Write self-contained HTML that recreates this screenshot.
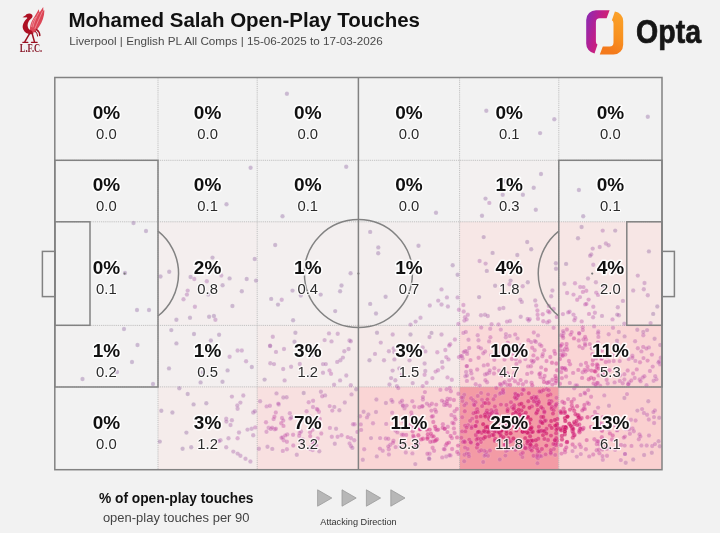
<!DOCTYPE html>
<html lang="en"><head><meta charset="utf-8">
<title>Mohamed Salah Open-Play Touches</title>
<style>
html,body{margin:0;padding:0;background:#f2f2f2;}
body{width:720px;height:533px;overflow:hidden;}
svg{display:block;will-change:transform;}
text{font-family:'Liberation Sans', sans-serif;}
.pc{font-weight:700;font-size:19px;fill:#111;text-anchor:middle;paint-order:stroke;stroke:#fff;stroke-width:3.2px;stroke-linejoin:round;stroke-opacity:.9}
.p9{font-weight:400;font-size:14.8px;fill:#2b2b2b;text-anchor:middle;paint-order:stroke;stroke:#fff;stroke-width:2.4px;stroke-linejoin:round;stroke-opacity:.75}
.ln{fill:none;stroke:#828282;stroke-width:1.5}
.dt{fill:none;stroke:#b2b2b2;stroke-width:1;stroke-dasharray:1.2 .9;stroke-opacity:.75}
.d{stroke:#fff;stroke-opacity:.16;stroke-width:.8}
</style></head><body>
<svg width="720" height="533" viewBox="0 0 720 533">
<defs>
<linearGradient id="ol" x1="0" y1="0.1" x2="1" y2="0.6"><stop offset="0" stop-color="#8a2bb4"/><stop offset=".5" stop-color="#c01e8a"/><stop offset="1" stop-color="#dc2660"/></linearGradient>
<linearGradient id="or" x1="0" y1="1" x2="0.3" y2="0"><stop offset="0" stop-color="#fba42c"/><stop offset=".6" stop-color="#f8911f"/><stop offset="1" stop-color="#f47a1c"/></linearGradient>
</defs>
<rect width="720" height="533" fill="#f2f2f2"/>
<g id="crest">
<path fill="#dc4656" d="M30.2 31.4 C29.4 26 31.4 21 34.6 16.6 L38.8 9.2 L39.5 12.6 L43.2 7.0 L43.4 10.8 L44.4 10.2 C44.4 16.5 42.2 22 39.2 26.4 C37.6 29 35.8 31.2 34 32.8 Z"/>
<g fill="none" stroke="#f3a3aa" stroke-width=".7" stroke-linecap="round"><path d="M33 27 C34 22 36 17.5 38.6 13"/><path d="M35 28.5 C37 23.5 39.5 18 42.4 11.5"/><path d="M31.6 26.5 C32 23 33.4 20 35.4 17.4"/></g>
<path fill="#ad1023" d="M22.5 17.3 L25.7 15.3 C26.4 13.4 30 12.7 31.9 14.4 C33.1 15.6 32.6 17.6 31 18.7 C28.6 20.6 27.6 23 27.6 25.4 C27.6 28 29.4 30 31.8 30.8 L33.6 33.6 C29.4 35.4 25 33.4 23.3 29.6 C21.5 25.4 24 21 27.4 17.9 C26.9 17.1 26 17 25.4 17.4 Z"/>
<path fill="none" stroke="#9c0f20" stroke-width="1.5" stroke-linecap="round" d="M36.6 29.6 C38.6 31 39.8 33 39.8 35.6"/>
<path fill="none" stroke="#9c0f20" stroke-width="1.1" stroke-linecap="round" d="M35.2 31.4 C36.8 32.6 37.6 34 37.6 36"/>
<g fill="none" stroke="#9c0f20" stroke-width="1.5" stroke-linecap="round"><path d="M29.4 33.8 L24.9 41.6"/><path d="M32.2 33.8 L34.4 41.6"/><path d="M22.8 42.3 H27.9" stroke-width="1.2"/><path d="M31.4 42.3 H37.2" stroke-width="1.2"/></g>
<text x="19.8" y="52.4" font-size="12" font-weight="700" fill="#8a1a2b" style="font-family:'Liberation Serif', serif" textLength="22.4" lengthAdjust="spacingAndGlyphs">L.F.C.</text>
</g>
<text x="68.4" y="27.4" font-size="19.6" font-weight="700" fill="#111" textLength="351.6" lengthAdjust="spacingAndGlyphs">Mohamed Salah Open-Play Touches</text>
<text x="69.2" y="45.2" font-size="11.6" fill="#4a4a4a" textLength="313.5" lengthAdjust="spacingAndGlyphs">Liverpool | English PL All Comps | 15-06-2025 to 17-03-2026</text>
<g id="opta">
<path fill="url(#ol)" d="M609.6 10.2 H596 A9.8 9.8 0 0 0 586.2 20 V43.6 A9.8 9.8 0 0 0 594.5 53.4 L597.5 44.6 Q595.9 43.6 595.9 41.4 V22.2 A3.9 3.9 0 0 1 599.8 18.3 H606.6 Z"/>
<path fill="url(#or)" transform="rotate(180 604.7 32.4)" d="M609.6 10.2 H596 A9.8 9.8 0 0 0 586.2 20 V43.6 A9.8 9.8 0 0 0 594.5 53.4 L597.5 44.6 Q595.9 43.6 595.9 41.4 V22.2 A3.9 3.9 0 0 1 599.8 18.3 H606.6 Z"/>
<text x="636" y="43.4" font-size="33" font-weight="700" fill="#161616" stroke="#161616" stroke-width=".7" textLength="65" lengthAdjust="spacingAndGlyphs">Opta</text>
</g>
<rect x="459.6" y="160.3" width="99.2" height="61.6" fill="rgb(243,240,240)"/>
<rect x="158.0" y="221.8" width="99.2" height="103.5" fill="rgb(244,238,238)"/>
<rect x="257.2" y="221.8" width="101.2" height="103.5" fill="rgb(243,239,239)"/>
<rect x="358.4" y="221.8" width="101.2" height="103.5" fill="rgb(243,238,238)"/>
<rect x="459.6" y="221.8" width="99.2" height="103.5" fill="rgb(247,231,230)"/>
<rect x="558.8" y="221.8" width="103.2" height="103.5" fill="rgb(247,230,229)"/>
<rect x="54.8" y="325.4" width="103.2" height="61.6" fill="rgb(242,241,241)"/>
<rect x="158.0" y="325.4" width="99.2" height="61.6" fill="rgb(243,239,239)"/>
<rect x="257.2" y="325.4" width="101.2" height="61.6" fill="rgb(245,236,235)"/>
<rect x="358.4" y="325.4" width="101.2" height="61.6" fill="rgb(245,234,233)"/>
<rect x="459.6" y="325.4" width="99.2" height="61.6" fill="rgb(250,217,217)"/>
<rect x="558.8" y="325.4" width="103.2" height="61.6" fill="rgb(250,213,213)"/>
<rect x="158.0" y="386.9" width="99.2" height="82.8" fill="rgb(245,236,235)"/>
<rect x="257.2" y="386.9" width="101.2" height="82.8" fill="rgb(248,224,224)"/>
<rect x="358.4" y="386.9" width="101.2" height="82.8" fill="rgb(250,213,213)"/>
<rect x="459.6" y="386.9" width="99.2" height="82.8" fill="rgb(243,155,165)"/>
<rect x="558.8" y="386.9" width="103.2" height="82.8" fill="rgb(250,208,208)"/>
<line class="dt" x1="158.0" y1="77.5" x2="158.0" y2="469.7"/>
<line class="dt" x1="257.2" y1="77.5" x2="257.2" y2="469.7"/>
<line class="dt" x1="459.6" y1="77.5" x2="459.6" y2="469.7"/>
<line class="dt" x1="558.8" y1="77.5" x2="558.8" y2="469.7"/>
<line class="dt" x1="54.8" y1="160.3" x2="662.0" y2="160.3"/>
<line class="dt" x1="54.8" y1="221.8" x2="662.0" y2="221.8"/>
<line class="dt" x1="54.8" y1="325.4" x2="662.0" y2="325.4"/>
<line class="dt" x1="54.8" y1="386.9" x2="662.0" y2="386.9"/>
<g class="d">
<g fill="rgb(128,80,148)" fill-opacity="0.35"><circle cx="286.9" cy="93.7" r="2.2"/><circle cx="250.6" cy="167.8" r="2.2"/><circle cx="346.2" cy="166.7" r="2.2"/><circle cx="226.5" cy="204.2" r="2.2"/><circle cx="282.5" cy="216.2" r="2.2"/><circle cx="486.3" cy="110.7" r="2.2"/><circle cx="554.3" cy="119.3" r="2.2"/><circle cx="540.1" cy="133.1" r="2.2"/><circle cx="647.8" cy="116.8" r="2.2"/><circle cx="436.0" cy="212.8" r="2.2"/><circle cx="541.0" cy="174.0" r="2.2"/><circle cx="505.7" cy="181.3" r="2.2"/><circle cx="533.7" cy="187.8" r="2.2"/><circle cx="502.7" cy="194.7" r="2.2"/><circle cx="522.9" cy="194.7" r="2.2"/><circle cx="485.5" cy="198.6" r="2.2"/><circle cx="535.8" cy="209.8" r="2.2"/><circle cx="482.0" cy="215.8" r="2.2"/><circle cx="578.9" cy="190.0" r="2.2"/><circle cx="583.2" cy="216.2" r="2.2"/><circle cx="133.5" cy="223.0" r="2.2"/><circle cx="146.0" cy="231.0" r="2.2"/><circle cx="125.0" cy="273.0" r="2.2"/><circle cx="137.0" cy="310.0" r="2.2"/><circle cx="149.0" cy="310.0" r="2.2"/><circle cx="124.0" cy="329.0" r="2.2"/><circle cx="137.5" cy="345.0" r="2.2"/><circle cx="132.0" cy="362.0" r="2.2"/><circle cx="117.0" cy="372.0" r="2.2"/><circle cx="82.5" cy="379.0" r="2.2"/><circle cx="153.0" cy="384.0" r="2.2"/><circle cx="169.2" cy="271.8" r="2.2"/><circle cx="212.5" cy="257.6" r="2.2"/><circle cx="254.7" cy="259.0" r="2.2"/><circle cx="190.6" cy="277.0" r="2.2"/><circle cx="229.6" cy="278.4" r="2.2"/><circle cx="246.7" cy="279.0" r="2.2"/><circle cx="256.0" cy="280.6" r="2.2"/><circle cx="241.8" cy="291.2" r="2.2"/><circle cx="208.2" cy="294.6" r="2.2"/><circle cx="232.4" cy="306.0" r="2.2"/><circle cx="176.4" cy="319.7" r="2.2"/><circle cx="190.0" cy="317.7" r="2.2"/><circle cx="209.1" cy="316.8" r="2.2"/><circle cx="213.9" cy="316.0" r="2.2"/><circle cx="275.2" cy="245.0" r="2.2"/><circle cx="271.2" cy="298.9" r="2.2"/><circle cx="278.0" cy="304.6" r="2.2"/><circle cx="293.1" cy="320.2" r="2.2"/><circle cx="300.8" cy="295.5" r="2.2"/><circle cx="320.7" cy="294.6" r="2.2"/><circle cx="341.5" cy="285.5" r="2.2"/><circle cx="340.1" cy="291.2" r="2.2"/><circle cx="350.6" cy="273.2" r="2.2"/><circle cx="335.2" cy="311.1" r="2.2"/><circle cx="292.5" cy="290.6" r="2.2"/><circle cx="194.0" cy="334.0" r="2.2"/><circle cx="219.1" cy="334.8" r="2.2"/><circle cx="176.4" cy="343.4" r="2.2"/><circle cx="251.8" cy="367.0" r="2.2"/><circle cx="227.6" cy="370.4" r="2.2"/><circle cx="200.6" cy="382.4" r="2.2"/><circle cx="222.5" cy="381.8" r="2.2"/><circle cx="187.7" cy="394.0" r="2.2"/><circle cx="206.3" cy="403.2" r="2.2"/><circle cx="161.3" cy="410.8" r="2.2"/><circle cx="182.6" cy="448.7" r="2.2"/><circle cx="191.2" cy="447.3" r="2.2"/><circle cx="159.8" cy="441.6" r="2.2"/><circle cx="295.4" cy="332.8" r="2.2"/><circle cx="310.2" cy="376.1" r="2.2"/><circle cx="370.2" cy="231.9" r="2.2"/><circle cx="378.2" cy="253.2" r="2.2"/><circle cx="418.5" cy="245.8" r="2.2"/><circle cx="452.7" cy="265.2" r="2.2"/><circle cx="457.6" cy="274.8" r="2.2"/><circle cx="385.6" cy="296.8" r="2.2"/><circle cx="370.2" cy="303.9" r="2.2"/><circle cx="376.0" cy="313.5" r="2.2"/><circle cx="410.5" cy="334.5" r="2.2"/><circle cx="431.5" cy="332.9" r="2.2"/><circle cx="369.5" cy="360.3" r="2.2"/><circle cx="222.6" cy="285.3" r="2.2"/><circle cx="160.5" cy="276.5" r="2.2"/><circle cx="378.3" cy="247.4" r="2.2"/><circle cx="555.9" cy="263.2" r="2.2"/><circle cx="479.1" cy="297.1" r="2.2"/><circle cx="492.6" cy="252.9" r="2.2"/><circle cx="519.3" cy="265.6" r="2.2"/><circle cx="527.8" cy="282.2" r="2.2"/><circle cx="517.3" cy="255.0" r="2.2"/><circle cx="556.0" cy="268.8" r="2.2"/><circle cx="483.7" cy="237.1" r="2.2"/><circle cx="486.8" cy="270.9" r="2.2"/><circle cx="495.1" cy="285.8" r="2.2"/><circle cx="531.2" cy="249.2" r="2.2"/><circle cx="527.2" cy="242.0" r="2.2"/><circle cx="510.6" cy="280.6" r="2.2"/><circle cx="648.9" cy="251.4" r="2.2"/><circle cx="616.9" cy="269.3" r="2.2"/><circle cx="615.2" cy="230.6" r="2.2"/><circle cx="610.7" cy="263.1" r="2.2"/><circle cx="653.2" cy="313.9" r="2.2"/><circle cx="578.0" cy="238.2" r="2.2"/><circle cx="581.6" cy="227.0" r="2.2"/><circle cx="566.1" cy="263.9" r="2.2"/><circle cx="657.3" cy="306.5" r="2.2"/><circle cx="210.9" cy="340.5" r="2.2"/><circle cx="171.3" cy="330.1" r="2.2"/><circle cx="169.0" cy="368.4" r="2.2"/><circle cx="202.9" cy="372.4" r="2.2"/><circle cx="312.0" cy="355.1" r="2.2"/><circle cx="294.5" cy="341.8" r="2.2"/><circle cx="264.6" cy="379.6" r="2.2"/><circle cx="377.0" cy="332.7" r="2.2"/><circle cx="193.6" cy="404.4" r="2.2"/><circle cx="186.4" cy="432.6" r="2.2"/><circle cx="179.3" cy="388.3" r="2.2"/><circle cx="172.4" cy="412.5" r="2.2"/><circle cx="303.7" cy="393.0" r="2.2"/><circle cx="356.2" cy="389.2" r="2.2"/></g>
<g fill="rgb(157,81,160)" fill-opacity="0.36"><circle cx="489.3" cy="202.9" r="2.2"/><circle cx="194.3" cy="279.0" r="2.2"/><circle cx="206.8" cy="281.2" r="2.2"/><circle cx="221.3" cy="275.5" r="2.2"/><circle cx="187.7" cy="290.6" r="2.2"/><circle cx="186.9" cy="294.6" r="2.2"/><circle cx="183.5" cy="299.2" r="2.2"/><circle cx="194.9" cy="306.8" r="2.2"/><circle cx="215.4" cy="319.7" r="2.2"/><circle cx="281.7" cy="299.7" r="2.2"/><circle cx="237.6" cy="350.5" r="2.2"/><circle cx="241.8" cy="350.5" r="2.2"/><circle cx="229.6" cy="356.7" r="2.2"/><circle cx="246.1" cy="361.3" r="2.2"/><circle cx="231.9" cy="396.6" r="2.2"/><circle cx="243.3" cy="395.5" r="2.2"/><circle cx="240.4" cy="402.6" r="2.2"/><circle cx="237.6" cy="408.8" r="2.2"/><circle cx="253.2" cy="412.5" r="2.2"/><circle cx="226.2" cy="418.8" r="2.2"/><circle cx="231.9" cy="420.2" r="2.2"/><circle cx="230.5" cy="425.0" r="2.2"/><circle cx="247.5" cy="429.6" r="2.2"/><circle cx="239.0" cy="432.5" r="2.2"/><circle cx="253.2" cy="435.3" r="2.2"/><circle cx="228.5" cy="438.2" r="2.2"/><circle cx="220.5" cy="440.2" r="2.2"/><circle cx="226.2" cy="447.3" r="2.2"/><circle cx="233.3" cy="451.6" r="2.2"/><circle cx="237.6" cy="453.6" r="2.2"/><circle cx="240.4" cy="455.8" r="2.2"/><circle cx="245.5" cy="458.7" r="2.2"/><circle cx="250.4" cy="461.5" r="2.2"/><circle cx="331.5" cy="341.4" r="2.2"/><circle cx="349.5" cy="340.5" r="2.2"/><circle cx="284.0" cy="349.0" r="2.2"/><circle cx="276.0" cy="351.9" r="2.2"/><circle cx="348.6" cy="349.0" r="2.2"/><circle cx="344.3" cy="351.3" r="2.2"/><circle cx="342.9" cy="357.6" r="2.2"/><circle cx="337.2" cy="361.9" r="2.2"/><circle cx="270.3" cy="363.3" r="2.2"/><circle cx="274.0" cy="364.1" r="2.2"/><circle cx="323.0" cy="364.1" r="2.2"/><circle cx="325.8" cy="364.1" r="2.2"/><circle cx="291.1" cy="366.7" r="2.2"/><circle cx="323.0" cy="372.7" r="2.2"/><circle cx="346.3" cy="375.5" r="2.2"/><circle cx="284.6" cy="380.4" r="2.2"/><circle cx="340.1" cy="380.4" r="2.2"/><circle cx="441.5" cy="289.4" r="2.2"/><circle cx="446.9" cy="297.4" r="2.2"/><circle cx="457.6" cy="297.4" r="2.2"/><circle cx="438.2" cy="300.6" r="2.2"/><circle cx="429.8" cy="305.5" r="2.2"/><circle cx="441.5" cy="304.5" r="2.2"/><circle cx="447.9" cy="306.5" r="2.2"/><circle cx="420.5" cy="317.7" r="2.2"/><circle cx="415.6" cy="321.6" r="2.2"/><circle cx="410.5" cy="324.6" r="2.2"/><circle cx="392.7" cy="334.5" r="2.2"/><circle cx="441.5" cy="334.5" r="2.2"/><circle cx="380.8" cy="342.6" r="2.2"/><circle cx="388.9" cy="351.3" r="2.2"/><circle cx="393.7" cy="348.4" r="2.2"/><circle cx="375.0" cy="353.9" r="2.2"/><circle cx="384.0" cy="360.3" r="2.2"/><circle cx="394.4" cy="359.4" r="2.2"/><circle cx="442.1" cy="361.9" r="2.2"/><circle cx="425.3" cy="371.0" r="2.2"/><circle cx="391.1" cy="378.1" r="2.2"/><circle cx="395.3" cy="380.3" r="2.2"/><circle cx="389.5" cy="384.5" r="2.2"/><circle cx="396.9" cy="386.1" r="2.2"/><circle cx="499.5" cy="308.8" r="2.2"/><circle cx="481.0" cy="315.3" r="2.2"/><circle cx="521.8" cy="301.9" r="2.2"/><circle cx="487.8" cy="316.0" r="2.2"/><circle cx="503.4" cy="308.0" r="2.2"/><circle cx="520.3" cy="299.6" r="2.2"/><circle cx="551.2" cy="296.2" r="2.2"/><circle cx="509.5" cy="284.3" r="2.2"/><circle cx="520.7" cy="316.8" r="2.2"/><circle cx="535.2" cy="300.5" r="2.2"/><circle cx="522.7" cy="286.2" r="2.2"/><circle cx="552.4" cy="290.5" r="2.2"/><circle cx="485.6" cy="263.6" r="2.2"/><circle cx="479.6" cy="261.0" r="2.2"/><circle cx="485.0" cy="314.8" r="2.2"/><circle cx="605.9" cy="243.5" r="2.2"/><circle cx="602.8" cy="286.1" r="2.2"/><circle cx="622.9" cy="300.9" r="2.2"/><circle cx="618.9" cy="315.2" r="2.2"/><circle cx="608.6" cy="245.3" r="2.2"/><circle cx="624.3" cy="323.7" r="2.2"/><circle cx="602.0" cy="315.9" r="2.2"/><circle cx="591.3" cy="254.4" r="2.2"/><circle cx="643.8" cy="289.2" r="2.2"/><circle cx="644.5" cy="283.0" r="2.2"/><circle cx="593.3" cy="264.7" r="2.2"/><circle cx="617.8" cy="307.2" r="2.2"/><circle cx="617.2" cy="314.6" r="2.2"/><circle cx="590.1" cy="255.8" r="2.2"/><circle cx="595.9" cy="282.3" r="2.2"/><circle cx="647.8" cy="295.2" r="2.2"/><circle cx="564.4" cy="283.7" r="2.2"/><circle cx="588.0" cy="278.5" r="2.2"/><circle cx="650.6" cy="323.1" r="2.2"/><circle cx="602.7" cy="230.6" r="2.2"/><circle cx="637.8" cy="275.6" r="2.2"/><circle cx="599.7" cy="247.0" r="2.2"/><circle cx="633.2" cy="290.5" r="2.2"/><circle cx="603.1" cy="262.7" r="2.2"/><circle cx="592.7" cy="248.6" r="2.2"/><circle cx="283.2" cy="369.0" r="2.2"/><circle cx="340.4" cy="360.2" r="2.2"/><circle cx="337.7" cy="333.8" r="2.2"/><circle cx="324.6" cy="340.1" r="2.2"/><circle cx="299.8" cy="364.0" r="2.2"/><circle cx="350.8" cy="385.3" r="2.2"/><circle cx="329.0" cy="333.4" r="2.2"/><circle cx="270.1" cy="346.0" r="2.2"/><circle cx="334.1" cy="384.8" r="2.2"/><circle cx="272.8" cy="336.8" r="2.2"/><circle cx="350.8" cy="341.3" r="2.2"/><circle cx="270.1" cy="345.7" r="2.2"/><circle cx="424.6" cy="363.5" r="2.2"/><circle cx="399.3" cy="368.4" r="2.2"/><circle cx="422.7" cy="347.5" r="2.2"/><circle cx="392.6" cy="370.6" r="2.2"/><circle cx="394.2" cy="352.0" r="2.2"/><circle cx="412.7" cy="383.1" r="2.2"/><circle cx="429.5" cy="337.0" r="2.2"/><circle cx="409.5" cy="360.2" r="2.2"/><circle cx="425.4" cy="351.4" r="2.2"/><circle cx="637.3" cy="329.8" r="2.2"/><circle cx="618.8" cy="332.0" r="2.2"/><circle cx="647.1" cy="330.1" r="2.2"/><circle cx="617.0" cy="340.6" r="2.2"/><circle cx="624.6" cy="336.4" r="2.2"/><circle cx="643.3" cy="331.9" r="2.2"/><circle cx="654.6" cy="338.8" r="2.2"/><circle cx="617.0" cy="343.7" r="2.2"/><circle cx="660.2" cy="345.0" r="2.2"/><circle cx="218.9" cy="441.1" r="2.2"/><circle cx="226.4" cy="421.6" r="2.2"/><circle cx="237.3" cy="405.4" r="2.2"/><circle cx="254.9" cy="411.3" r="2.2"/><circle cx="251.6" cy="428.8" r="2.2"/><circle cx="320.9" cy="391.8" r="2.2"/><circle cx="272.3" cy="448.9" r="2.2"/><circle cx="319.3" cy="451.2" r="2.2"/><circle cx="352.4" cy="447.9" r="2.2"/><circle cx="339.4" cy="410.2" r="2.2"/><circle cx="260.1" cy="401.3" r="2.2"/><circle cx="334.3" cy="406.9" r="2.2"/><circle cx="276.5" cy="393.4" r="2.2"/><circle cx="334.8" cy="443.7" r="2.2"/><circle cx="344.8" cy="402.5" r="2.2"/><circle cx="283.3" cy="397.5" r="2.2"/><circle cx="291.4" cy="417.2" r="2.2"/><circle cx="258.9" cy="448.8" r="2.2"/><circle cx="351.5" cy="394.4" r="2.2"/><circle cx="325.1" cy="395.4" r="2.2"/><circle cx="286.6" cy="397.2" r="2.2"/><circle cx="267.5" cy="446.8" r="2.2"/><circle cx="336.1" cy="428.8" r="2.2"/><circle cx="296.8" cy="454.7" r="2.2"/><circle cx="363.6" cy="411.7" r="2.2"/><circle cx="385.9" cy="403.0" r="2.2"/><circle cx="376.4" cy="399.5" r="2.2"/><circle cx="371.0" cy="438.1" r="2.2"/><circle cx="376.8" cy="456.4" r="2.2"/><circle cx="368.4" cy="414.5" r="2.2"/><circle cx="429.0" cy="458.2" r="2.2"/><circle cx="362.8" cy="459.7" r="2.2"/><circle cx="376.0" cy="412.0" r="2.2"/><circle cx="415.3" cy="464.1" r="2.2"/><circle cx="429.3" cy="458.9" r="2.2"/><circle cx="651.8" cy="452.7" r="2.2"/><circle cx="637.4" cy="410.6" r="2.2"/><circle cx="648.3" cy="401.2" r="2.2"/><circle cx="644.1" cy="455.0" r="2.2"/><circle cx="659.8" cy="446.3" r="2.2"/><circle cx="633.2" cy="459.5" r="2.2"/><circle cx="625.7" cy="462.8" r="2.2"/><circle cx="624.4" cy="398.0" r="2.2"/><circle cx="659.2" cy="417.7" r="2.2"/><circle cx="658.6" cy="441.2" r="2.2"/><circle cx="609.0" cy="405.7" r="2.2"/></g>
<g fill="rgb(179,80,167)" fill-opacity="0.38"><circle cx="255.2" cy="427.4" r="2.2"/><circle cx="237.6" cy="438.2" r="2.2"/><circle cx="329.5" cy="370.4" r="2.2"/><circle cx="331.0" cy="373.8" r="2.2"/><circle cx="458.9" cy="309.7" r="2.2"/><circle cx="437.3" cy="352.3" r="2.2"/><circle cx="445.3" cy="350.0" r="2.2"/><circle cx="450.2" cy="344.2" r="2.2"/><circle cx="446.3" cy="357.1" r="2.2"/><circle cx="448.5" cy="359.4" r="2.2"/><circle cx="435.6" cy="371.6" r="2.2"/><circle cx="432.4" cy="378.1" r="2.2"/><circle cx="451.8" cy="379.7" r="2.2"/><circle cx="422.7" cy="386.1" r="2.2"/><circle cx="401.8" cy="374.8" r="2.2"/><circle cx="458.4" cy="323.9" r="2.2"/><circle cx="553.7" cy="308.9" r="2.2"/><circle cx="548.9" cy="305.9" r="2.2"/><circle cx="464.4" cy="320.6" r="2.2"/><circle cx="547.2" cy="322.4" r="2.2"/><circle cx="528.7" cy="320.6" r="2.2"/><circle cx="491.6" cy="324.3" r="2.2"/><circle cx="529.7" cy="319.3" r="2.2"/><circle cx="463.7" cy="311.5" r="2.2"/><circle cx="463.4" cy="305.0" r="2.2"/><circle cx="527.6" cy="318.9" r="2.2"/><circle cx="466.6" cy="319.4" r="2.2"/><circle cx="536.2" cy="305.5" r="2.2"/><circle cx="498.5" cy="324.4" r="2.2"/><circle cx="510.0" cy="321.0" r="2.2"/><circle cx="465.0" cy="317.3" r="2.2"/><circle cx="467.8" cy="314.8" r="2.2"/><circle cx="507.0" cy="321.6" r="2.2"/><circle cx="569.6" cy="311.7" r="2.2"/><circle cx="596.2" cy="292.6" r="2.2"/><circle cx="598.0" cy="294.9" r="2.2"/><circle cx="580.0" cy="297.1" r="2.2"/><circle cx="593.3" cy="306.8" r="2.2"/><circle cx="593.1" cy="317.2" r="2.2"/><circle cx="573.5" cy="314.6" r="2.2"/><circle cx="562.9" cy="314.1" r="2.2"/><circle cx="580.2" cy="287.0" r="2.2"/><circle cx="612.5" cy="319.4" r="2.2"/><circle cx="567.1" cy="293.0" r="2.2"/><circle cx="575.3" cy="317.9" r="2.2"/><circle cx="568.2" cy="312.4" r="2.2"/><circle cx="575.0" cy="283.3" r="2.2"/><circle cx="573.5" cy="294.6" r="2.2"/><circle cx="583.5" cy="287.1" r="2.2"/><circle cx="594.9" cy="312.8" r="2.2"/><circle cx="438.0" cy="370.2" r="2.2"/><circle cx="424.6" cy="374.7" r="2.2"/><circle cx="449.2" cy="345.5" r="2.2"/><circle cx="454.9" cy="339.5" r="2.2"/><circle cx="426.6" cy="382.8" r="2.2"/><circle cx="447.5" cy="377.4" r="2.2"/><circle cx="442.5" cy="367.5" r="2.2"/><circle cx="538.0" cy="335.4" r="2.2"/><circle cx="505.9" cy="334.1" r="2.2"/><circle cx="500.8" cy="329.6" r="2.2"/><circle cx="463.4" cy="332.9" r="2.2"/><circle cx="465.4" cy="376.2" r="2.2"/><circle cx="465.8" cy="331.9" r="2.2"/><circle cx="466.1" cy="371.9" r="2.2"/><circle cx="517.5" cy="338.4" r="2.2"/><circle cx="466.9" cy="375.5" r="2.2"/><circle cx="553.6" cy="327.8" r="2.2"/><circle cx="477.7" cy="335.3" r="2.2"/><circle cx="478.5" cy="340.2" r="2.2"/><circle cx="468.5" cy="339.7" r="2.2"/><circle cx="509.6" cy="335.9" r="2.2"/><circle cx="481.2" cy="327.5" r="2.2"/><circle cx="505.8" cy="337.2" r="2.2"/><circle cx="490.2" cy="328.8" r="2.2"/><circle cx="653.6" cy="380.7" r="2.2"/><circle cx="635.1" cy="341.3" r="2.2"/><circle cx="660.7" cy="357.8" r="2.2"/><circle cx="656.4" cy="379.3" r="2.2"/><circle cx="635.4" cy="360.9" r="2.2"/><circle cx="643.3" cy="335.2" r="2.2"/><circle cx="598.3" cy="331.5" r="2.2"/><circle cx="614.0" cy="348.7" r="2.2"/><circle cx="646.5" cy="385.2" r="2.2"/><circle cx="594.1" cy="326.4" r="2.2"/><circle cx="660.1" cy="364.4" r="2.2"/><circle cx="608.7" cy="334.3" r="2.2"/><circle cx="658.4" cy="362.4" r="2.2"/><circle cx="655.2" cy="376.3" r="2.2"/><circle cx="613.0" cy="327.8" r="2.2"/><circle cx="659.2" cy="361.5" r="2.2"/><circle cx="648.9" cy="347.4" r="2.2"/><circle cx="313.1" cy="400.8" r="2.2"/><circle cx="341.5" cy="435.2" r="2.2"/><circle cx="278.7" cy="404.5" r="2.2"/><circle cx="332.3" cy="410.6" r="2.2"/><circle cx="286.9" cy="449.3" r="2.2"/><circle cx="351.0" cy="438.2" r="2.2"/><circle cx="290.3" cy="418.6" r="2.2"/><circle cx="329.7" cy="406.1" r="2.2"/><circle cx="313.0" cy="407.0" r="2.2"/><circle cx="266.6" cy="406.4" r="2.2"/><circle cx="278.3" cy="403.6" r="2.2"/><circle cx="312.6" cy="450.0" r="2.2"/><circle cx="331.8" cy="436.7" r="2.2"/><circle cx="306.6" cy="411.2" r="2.2"/><circle cx="301.7" cy="420.3" r="2.2"/><circle cx="354.3" cy="440.3" r="2.2"/><circle cx="308.7" cy="402.3" r="2.2"/><circle cx="322.2" cy="396.3" r="2.2"/><circle cx="266.5" cy="431.8" r="2.2"/><circle cx="282.8" cy="450.9" r="2.2"/><circle cx="349.6" cy="443.5" r="2.2"/><circle cx="268.6" cy="427.7" r="2.2"/><circle cx="269.9" cy="405.8" r="2.2"/><circle cx="337.6" cy="436.7" r="2.2"/><circle cx="289.8" cy="413.3" r="2.2"/><circle cx="354.6" cy="424.2" r="2.2"/><circle cx="316.3" cy="445.5" r="2.2"/><circle cx="351.1" cy="446.3" r="2.2"/><circle cx="310.3" cy="447.5" r="2.2"/><circle cx="353.0" cy="424.2" r="2.2"/><circle cx="329.9" cy="427.9" r="2.2"/><circle cx="310.2" cy="449.1" r="2.2"/><circle cx="301.1" cy="431.5" r="2.2"/><circle cx="357.4" cy="431.9" r="2.2"/><circle cx="398.3" cy="388.1" r="2.2"/><circle cx="388.9" cy="454.5" r="2.2"/><circle cx="360.8" cy="424.4" r="2.2"/><circle cx="364.2" cy="449.3" r="2.2"/><circle cx="391.4" cy="399.9" r="2.2"/><circle cx="412.4" cy="453.4" r="2.2"/><circle cx="392.5" cy="401.7" r="2.2"/><circle cx="373.0" cy="423.3" r="2.2"/><circle cx="360.0" cy="416.2" r="2.2"/><circle cx="380.1" cy="438.1" r="2.2"/><circle cx="446.2" cy="456.5" r="2.2"/><circle cx="405.8" cy="452.5" r="2.2"/><circle cx="361.1" cy="429.9" r="2.2"/><circle cx="382.7" cy="450.7" r="2.2"/><circle cx="392.2" cy="412.8" r="2.2"/><circle cx="386.2" cy="423.9" r="2.2"/><circle cx="367.0" cy="417.4" r="2.2"/><circle cx="499.8" cy="459.5" r="2.2"/><circle cx="464.2" cy="461.3" r="2.2"/><circle cx="483.2" cy="462.0" r="2.2"/><circle cx="642.1" cy="409.1" r="2.2"/><circle cx="646.7" cy="445.5" r="2.2"/><circle cx="654.0" cy="417.1" r="2.2"/><circle cx="580.8" cy="454.1" r="2.2"/><circle cx="631.0" cy="419.7" r="2.2"/><circle cx="654.9" cy="410.4" r="2.2"/><circle cx="576.8" cy="456.6" r="2.2"/><circle cx="648.8" cy="419.5" r="2.2"/><circle cx="602.8" cy="459.8" r="2.2"/><circle cx="625.0" cy="454.1" r="2.2"/><circle cx="643.9" cy="413.0" r="2.2"/><circle cx="653.4" cy="412.1" r="2.2"/><circle cx="649.0" cy="435.5" r="2.2"/><circle cx="647.1" cy="414.7" r="2.2"/><circle cx="652.2" cy="446.0" r="2.2"/><circle cx="627.0" cy="394.1" r="2.2"/><circle cx="620.8" cy="460.1" r="2.2"/><circle cx="641.4" cy="445.5" r="2.2"/><circle cx="655.0" cy="444.1" r="2.2"/><circle cx="654.1" cy="423.0" r="2.2"/><circle cx="625.0" cy="453.9" r="2.2"/><circle cx="604.3" cy="395.4" r="2.2"/></g>
<g fill="rgb(187,75,164)" fill-opacity="0.40"><circle cx="458.9" cy="357.1" r="2.2"/><circle cx="548.1" cy="311.3" r="2.2"/><circle cx="537.4" cy="310.5" r="2.2"/><circle cx="549.4" cy="312.2" r="2.2"/><circle cx="537.6" cy="314.8" r="2.2"/><circle cx="538.0" cy="318.7" r="2.2"/><circle cx="542.7" cy="314.3" r="2.2"/><circle cx="543.3" cy="321.2" r="2.2"/><circle cx="549.2" cy="321.2" r="2.2"/><circle cx="556.8" cy="316.9" r="2.2"/><circle cx="577.2" cy="299.7" r="2.2"/><circle cx="589.0" cy="313.9" r="2.2"/><circle cx="574.4" cy="320.2" r="2.2"/><circle cx="585.2" cy="304.4" r="2.2"/><circle cx="588.6" cy="299.6" r="2.2"/><circle cx="586.4" cy="303.9" r="2.2"/><circle cx="581.7" cy="321.4" r="2.2"/><circle cx="586.3" cy="290.7" r="2.2"/><circle cx="582.9" cy="291.9" r="2.2"/><circle cx="485.0" cy="374.5" r="2.2"/><circle cx="479.7" cy="385.6" r="2.2"/><circle cx="494.3" cy="368.3" r="2.2"/><circle cx="466.9" cy="351.3" r="2.2"/><circle cx="485.1" cy="351.4" r="2.2"/><circle cx="469.2" cy="348.0" r="2.2"/><circle cx="467.1" cy="353.9" r="2.2"/><circle cx="481.0" cy="348.4" r="2.2"/><circle cx="471.4" cy="373.4" r="2.2"/><circle cx="489.2" cy="372.7" r="2.2"/><circle cx="475.7" cy="384.2" r="2.2"/><circle cx="465.1" cy="351.2" r="2.2"/><circle cx="489.7" cy="370.4" r="2.2"/><circle cx="496.4" cy="351.9" r="2.2"/><circle cx="495.4" cy="352.0" r="2.2"/><circle cx="486.9" cy="373.8" r="2.2"/><circle cx="472.6" cy="378.4" r="2.2"/><circle cx="463.7" cy="352.1" r="2.2"/><circle cx="470.8" cy="370.6" r="2.2"/><circle cx="504.9" cy="355.4" r="2.2"/><circle cx="533.8" cy="332.5" r="2.2"/><circle cx="531.2" cy="342.1" r="2.2"/><circle cx="462.6" cy="358.4" r="2.2"/><circle cx="489.1" cy="341.4" r="2.2"/><circle cx="535.9" cy="341.9" r="2.2"/><circle cx="483.3" cy="353.3" r="2.2"/><circle cx="501.2" cy="355.3" r="2.2"/><circle cx="515.2" cy="334.4" r="2.2"/><circle cx="493.2" cy="347.0" r="2.2"/><circle cx="483.8" cy="365.4" r="2.2"/><circle cx="534.8" cy="340.9" r="2.2"/><circle cx="462.0" cy="356.1" r="2.2"/><circle cx="466.9" cy="380.9" r="2.2"/><circle cx="487.1" cy="382.3" r="2.2"/><circle cx="478.6" cy="347.1" r="2.2"/><circle cx="490.4" cy="337.3" r="2.2"/><circle cx="460.8" cy="355.9" r="2.2"/><circle cx="539.8" cy="344.4" r="2.2"/><circle cx="629.2" cy="382.5" r="2.2"/><circle cx="612.7" cy="355.4" r="2.2"/><circle cx="607.7" cy="383.5" r="2.2"/><circle cx="641.4" cy="351.4" r="2.2"/><circle cx="639.6" cy="379.5" r="2.2"/><circle cx="561.1" cy="335.2" r="2.2"/><circle cx="619.7" cy="361.1" r="2.2"/><circle cx="652.7" cy="366.6" r="2.2"/><circle cx="632.4" cy="355.8" r="2.2"/><circle cx="619.8" cy="380.9" r="2.2"/><circle cx="563.6" cy="333.1" r="2.2"/><circle cx="614.6" cy="382.4" r="2.2"/><circle cx="634.7" cy="378.0" r="2.2"/><circle cx="628.1" cy="384.0" r="2.2"/><circle cx="646.4" cy="348.5" r="2.2"/><circle cx="643.2" cy="346.9" r="2.2"/><circle cx="628.3" cy="384.4" r="2.2"/><circle cx="649.9" cy="371.0" r="2.2"/><circle cx="580.9" cy="364.7" r="2.2"/><circle cx="640.6" cy="381.3" r="2.2"/><circle cx="598.1" cy="333.3" r="2.2"/><circle cx="624.4" cy="379.5" r="2.2"/><circle cx="624.4" cy="374.2" r="2.2"/><circle cx="575.6" cy="385.5" r="2.2"/><circle cx="613.7" cy="361.0" r="2.2"/><circle cx="651.9" cy="354.6" r="2.2"/><circle cx="563.1" cy="331.1" r="2.2"/><circle cx="598.4" cy="336.9" r="2.2"/><circle cx="577.1" cy="385.4" r="2.2"/><circle cx="620.0" cy="375.2" r="2.2"/><circle cx="642.7" cy="377.5" r="2.2"/><circle cx="644.4" cy="376.3" r="2.2"/><circle cx="628.7" cy="359.0" r="2.2"/><circle cx="569.8" cy="382.9" r="2.2"/><circle cx="632.4" cy="357.8" r="2.2"/><circle cx="637.8" cy="348.2" r="2.2"/><circle cx="622.7" cy="383.3" r="2.2"/><circle cx="643.5" cy="358.1" r="2.2"/><circle cx="314.7" cy="420.9" r="2.2"/><circle cx="266.0" cy="422.3" r="2.2"/><circle cx="316.8" cy="408.9" r="2.2"/><circle cx="283.7" cy="440.2" r="2.2"/><circle cx="312.5" cy="429.8" r="2.2"/><circle cx="313.1" cy="442.7" r="2.2"/><circle cx="287.3" cy="434.4" r="2.2"/><circle cx="317.7" cy="438.4" r="2.2"/><circle cx="318.9" cy="411.8" r="2.2"/><circle cx="319.8" cy="419.0" r="2.2"/><circle cx="312.6" cy="441.8" r="2.2"/><circle cx="274.7" cy="429.2" r="2.2"/><circle cx="302.7" cy="439.4" r="2.2"/><circle cx="317.6" cy="409.8" r="2.2"/><circle cx="301.5" cy="443.2" r="2.2"/><circle cx="282.0" cy="418.0" r="2.2"/><circle cx="319.9" cy="423.9" r="2.2"/><circle cx="270.9" cy="428.9" r="2.2"/><circle cx="310.3" cy="416.7" r="2.2"/><circle cx="283.3" cy="420.5" r="2.2"/><circle cx="317.5" cy="422.7" r="2.2"/><circle cx="321.3" cy="433.5" r="2.2"/><circle cx="282.8" cy="437.4" r="2.2"/><circle cx="318.4" cy="422.6" r="2.2"/><circle cx="299.6" cy="432.9" r="2.2"/><circle cx="275.9" cy="428.7" r="2.2"/><circle cx="286.9" cy="441.8" r="2.2"/><circle cx="293.1" cy="434.8" r="2.2"/><circle cx="347.7" cy="437.1" r="2.2"/><circle cx="273.6" cy="419.1" r="2.2"/><circle cx="293.3" cy="445.5" r="2.2"/><circle cx="299.2" cy="435.8" r="2.2"/><circle cx="281.5" cy="437.8" r="2.2"/><circle cx="275.8" cy="412.5" r="2.2"/><circle cx="272.1" cy="427.6" r="2.2"/><circle cx="400.3" cy="402.4" r="2.2"/><circle cx="395.6" cy="447.1" r="2.2"/><circle cx="379.9" cy="448.6" r="2.2"/><circle cx="402.9" cy="405.4" r="2.2"/><circle cx="385.8" cy="438.5" r="2.2"/><circle cx="390.3" cy="444.7" r="2.2"/><circle cx="388.3" cy="438.7" r="2.2"/><circle cx="422.9" cy="399.5" r="2.2"/><circle cx="424.9" cy="392.1" r="2.2"/><circle cx="400.0" cy="446.4" r="2.2"/><circle cx="404.5" cy="408.4" r="2.2"/><circle cx="442.2" cy="457.4" r="2.2"/><circle cx="403.0" cy="405.8" r="2.2"/><circle cx="450.5" cy="455.4" r="2.2"/><circle cx="402.1" cy="400.7" r="2.2"/><circle cx="388.8" cy="449.3" r="2.2"/><circle cx="449.8" cy="388.0" r="2.2"/><circle cx="406.6" cy="405.6" r="2.2"/><circle cx="446.6" cy="389.2" r="2.2"/><circle cx="429.6" cy="453.8" r="2.2"/><circle cx="440.4" cy="389.8" r="2.2"/><circle cx="426.9" cy="403.6" r="2.2"/><circle cx="412.3" cy="401.3" r="2.2"/><circle cx="449.4" cy="455.2" r="2.2"/><circle cx="422.9" cy="397.1" r="2.2"/><circle cx="395.4" cy="430.5" r="2.2"/><circle cx="397.4" cy="432.4" r="2.2"/><circle cx="388.3" cy="446.4" r="2.2"/><circle cx="464.3" cy="394.8" r="2.2"/><circle cx="484.5" cy="455.8" r="2.2"/><circle cx="485.4" cy="454.9" r="2.2"/><circle cx="505.4" cy="455.6" r="2.2"/><circle cx="488.0" cy="455.8" r="2.2"/><circle cx="537.5" cy="463.2" r="2.2"/><circle cx="574.2" cy="388.3" r="2.2"/><circle cx="617.7" cy="419.4" r="2.2"/><circle cx="628.6" cy="427.2" r="2.2"/><circle cx="639.5" cy="434.4" r="2.2"/><circle cx="638.8" cy="439.3" r="2.2"/><circle cx="632.6" cy="428.4" r="2.2"/><circle cx="589.2" cy="456.4" r="2.2"/><circle cx="633.8" cy="431.2" r="2.2"/><circle cx="621.1" cy="444.9" r="2.2"/><circle cx="629.9" cy="433.8" r="2.2"/><circle cx="598.1" cy="407.6" r="2.2"/><circle cx="572.5" cy="451.1" r="2.2"/><circle cx="624.7" cy="445.6" r="2.2"/><circle cx="635.6" cy="420.5" r="2.2"/><circle cx="607.0" cy="455.8" r="2.2"/><circle cx="640.4" cy="436.4" r="2.2"/><circle cx="631.5" cy="445.9" r="2.2"/><circle cx="602.5" cy="456.1" r="2.2"/><circle cx="629.1" cy="429.4" r="2.2"/><circle cx="625.7" cy="429.1" r="2.2"/><circle cx="615.1" cy="449.8" r="2.2"/></g>
<g fill="rgb(195,70,161)" fill-opacity="0.41"><circle cx="512.7" cy="377.9" r="2.2"/><circle cx="487.8" cy="364.7" r="2.2"/><circle cx="514.5" cy="373.3" r="2.2"/><circle cx="501.9" cy="375.2" r="2.2"/><circle cx="504.8" cy="382.0" r="2.2"/><circle cx="532.8" cy="362.2" r="2.2"/><circle cx="503.5" cy="383.2" r="2.2"/><circle cx="528.1" cy="366.4" r="2.2"/><circle cx="530.9" cy="366.2" r="2.2"/><circle cx="499.0" cy="370.6" r="2.2"/><circle cx="531.6" cy="372.6" r="2.2"/><circle cx="504.5" cy="359.6" r="2.2"/><circle cx="509.3" cy="380.2" r="2.2"/><circle cx="511.9" cy="359.0" r="2.2"/><circle cx="491.2" cy="355.2" r="2.2"/><circle cx="518.7" cy="348.3" r="2.2"/><circle cx="519.8" cy="361.5" r="2.2"/><circle cx="544.2" cy="350.3" r="2.2"/><circle cx="541.4" cy="345.9" r="2.2"/><circle cx="533.8" cy="360.9" r="2.2"/><circle cx="497.3" cy="353.0" r="2.2"/><circle cx="525.3" cy="359.0" r="2.2"/><circle cx="526.1" cy="381.7" r="2.2"/><circle cx="528.4" cy="340.3" r="2.2"/><circle cx="531.6" cy="360.6" r="2.2"/><circle cx="515.8" cy="359.2" r="2.2"/><circle cx="507.7" cy="342.6" r="2.2"/><circle cx="515.6" cy="347.1" r="2.2"/><circle cx="470.5" cy="360.1" r="2.2"/><circle cx="466.6" cy="366.1" r="2.2"/><circle cx="478.6" cy="357.7" r="2.2"/><circle cx="541.2" cy="367.4" r="2.2"/><circle cx="507.2" cy="373.1" r="2.2"/><circle cx="500.9" cy="385.3" r="2.2"/><circle cx="504.7" cy="348.6" r="2.2"/><circle cx="542.8" cy="354.1" r="2.2"/><circle cx="534.7" cy="350.2" r="2.2"/><circle cx="520.7" cy="348.4" r="2.2"/><circle cx="521.2" cy="345.3" r="2.2"/><circle cx="513.1" cy="353.8" r="2.2"/><circle cx="477.2" cy="369.5" r="2.2"/><circle cx="494.3" cy="359.7" r="2.2"/><circle cx="516.4" cy="364.0" r="2.2"/><circle cx="485.4" cy="380.2" r="2.2"/><circle cx="508.2" cy="355.1" r="2.2"/><circle cx="542.3" cy="356.3" r="2.2"/><circle cx="527.2" cy="373.9" r="2.2"/><circle cx="494.0" cy="373.5" r="2.2"/><circle cx="466.9" cy="366.1" r="2.2"/><circle cx="566.9" cy="329.5" r="2.2"/><circle cx="601.7" cy="350.6" r="2.2"/><circle cx="609.0" cy="361.4" r="2.2"/><circle cx="627.7" cy="370.5" r="2.2"/><circle cx="582.7" cy="372.3" r="2.2"/><circle cx="600.1" cy="385.6" r="2.2"/><circle cx="582.7" cy="348.1" r="2.2"/><circle cx="566.1" cy="376.5" r="2.2"/><circle cx="595.5" cy="385.0" r="2.2"/><circle cx="585.0" cy="343.8" r="2.2"/><circle cx="607.3" cy="356.9" r="2.2"/><circle cx="578.7" cy="340.5" r="2.2"/><circle cx="597.4" cy="346.0" r="2.2"/><circle cx="563.2" cy="337.7" r="2.2"/><circle cx="636.8" cy="369.4" r="2.2"/><circle cx="579.1" cy="333.1" r="2.2"/><circle cx="579.4" cy="346.4" r="2.2"/><circle cx="631.3" cy="380.5" r="2.2"/><circle cx="573.1" cy="372.9" r="2.2"/><circle cx="562.8" cy="336.0" r="2.2"/><circle cx="595.9" cy="385.9" r="2.2"/><circle cx="571.7" cy="332.1" r="2.2"/><circle cx="596.7" cy="348.3" r="2.2"/><circle cx="585.2" cy="345.2" r="2.2"/><circle cx="579.2" cy="333.5" r="2.2"/><circle cx="640.0" cy="362.3" r="2.2"/><circle cx="563.3" cy="351.5" r="2.2"/><circle cx="647.6" cy="360.6" r="2.2"/><circle cx="564.4" cy="349.4" r="2.2"/><circle cx="591.8" cy="348.3" r="2.2"/><circle cx="633.1" cy="373.5" r="2.2"/><circle cx="582.8" cy="330.1" r="2.2"/><circle cx="598.0" cy="342.5" r="2.2"/><circle cx="589.8" cy="344.1" r="2.2"/><circle cx="597.8" cy="382.9" r="2.2"/><circle cx="606.6" cy="379.8" r="2.2"/><circle cx="582.7" cy="327.2" r="2.2"/><circle cx="586.1" cy="339.4" r="2.2"/><circle cx="583.4" cy="339.5" r="2.2"/><circle cx="274.4" cy="416.7" r="2.2"/><circle cx="281.2" cy="423.3" r="2.2"/><circle cx="310.1" cy="432.2" r="2.2"/><circle cx="285.3" cy="435.4" r="2.2"/><circle cx="310.2" cy="436.1" r="2.2"/><circle cx="283.5" cy="425.9" r="2.2"/><circle cx="393.5" cy="440.8" r="2.2"/><circle cx="421.9" cy="406.5" r="2.2"/><circle cx="435.0" cy="409.6" r="2.2"/><circle cx="411.3" cy="412.5" r="2.2"/><circle cx="393.0" cy="442.7" r="2.2"/><circle cx="419.3" cy="407.3" r="2.2"/><circle cx="444.2" cy="405.1" r="2.2"/><circle cx="414.3" cy="406.8" r="2.2"/><circle cx="434.1" cy="450.8" r="2.2"/><circle cx="458.4" cy="393.7" r="2.2"/><circle cx="431.4" cy="410.6" r="2.2"/><circle cx="427.4" cy="453.7" r="2.2"/><circle cx="417.5" cy="446.5" r="2.2"/><circle cx="451.4" cy="415.0" r="2.2"/><circle cx="447.5" cy="398.7" r="2.2"/><circle cx="446.1" cy="404.9" r="2.2"/><circle cx="422.5" cy="406.3" r="2.2"/><circle cx="458.5" cy="453.9" r="2.2"/><circle cx="444.0" cy="402.1" r="2.2"/><circle cx="436.1" cy="411.7" r="2.2"/><circle cx="401.8" cy="434.6" r="2.2"/><circle cx="454.5" cy="416.7" r="2.2"/><circle cx="429.4" cy="405.5" r="2.2"/><circle cx="414.5" cy="445.6" r="2.2"/><circle cx="450.1" cy="399.0" r="2.2"/><circle cx="441.9" cy="400.6" r="2.2"/><circle cx="443.8" cy="449.1" r="2.2"/><circle cx="403.4" cy="421.2" r="2.2"/><circle cx="436.2" cy="404.6" r="2.2"/><circle cx="431.9" cy="403.8" r="2.2"/><circle cx="447.8" cy="426.7" r="2.2"/><circle cx="404.3" cy="442.9" r="2.2"/><circle cx="454.6" cy="411.3" r="2.2"/><circle cx="403.3" cy="434.7" r="2.2"/><circle cx="444.6" cy="449.3" r="2.2"/><circle cx="450.8" cy="391.3" r="2.2"/><circle cx="464.5" cy="454.7" r="2.2"/><circle cx="486.5" cy="452.1" r="2.2"/><circle cx="484.4" cy="450.8" r="2.2"/><circle cx="477.7" cy="395.9" r="2.2"/><circle cx="522.5" cy="457.1" r="2.2"/><circle cx="462.5" cy="401.0" r="2.2"/><circle cx="463.0" cy="397.6" r="2.2"/><circle cx="466.8" cy="453.5" r="2.2"/><circle cx="468.7" cy="453.9" r="2.2"/><circle cx="469.0" cy="456.4" r="2.2"/><circle cx="507.8" cy="449.9" r="2.2"/><circle cx="496.3" cy="388.0" r="2.2"/><circle cx="506.0" cy="450.9" r="2.2"/><circle cx="461.6" cy="397.5" r="2.2"/><circle cx="466.2" cy="403.4" r="2.2"/><circle cx="555.2" cy="454.9" r="2.2"/><circle cx="499.8" cy="393.7" r="2.2"/><circle cx="481.1" cy="392.9" r="2.2"/><circle cx="606.4" cy="417.6" r="2.2"/><circle cx="616.8" cy="429.7" r="2.2"/><circle cx="568.1" cy="399.1" r="2.2"/><circle cx="588.2" cy="390.1" r="2.2"/><circle cx="594.9" cy="412.0" r="2.2"/><circle cx="624.9" cy="436.6" r="2.2"/><circle cx="591.1" cy="396.8" r="2.2"/><circle cx="611.5" cy="421.8" r="2.2"/><circle cx="580.5" cy="394.9" r="2.2"/><circle cx="584.6" cy="392.7" r="2.2"/><circle cx="623.8" cy="437.6" r="2.2"/><circle cx="575.0" cy="447.1" r="2.2"/><circle cx="596.7" cy="450.2" r="2.2"/><circle cx="580.9" cy="447.0" r="2.2"/><circle cx="606.9" cy="448.8" r="2.2"/><circle cx="598.9" cy="449.8" r="2.2"/><circle cx="602.3" cy="449.6" r="2.2"/><circle cx="599.4" cy="453.3" r="2.2"/><circle cx="609.9" cy="448.3" r="2.2"/><circle cx="585.9" cy="449.2" r="2.2"/><circle cx="593.2" cy="454.5" r="2.2"/><circle cx="617.2" cy="430.4" r="2.2"/><circle cx="606.3" cy="446.4" r="2.2"/><circle cx="588.9" cy="403.9" r="2.2"/><circle cx="585.1" cy="393.5" r="2.2"/></g>
<g fill="rgb(202,65,157)" fill-opacity="0.43"><circle cx="544.6" cy="376.0" r="2.2"/><circle cx="520.6" cy="380.1" r="2.2"/><circle cx="525.6" cy="352.0" r="2.2"/><circle cx="532.2" cy="347.8" r="2.2"/><circle cx="540.3" cy="377.0" r="2.2"/><circle cx="547.9" cy="382.9" r="2.2"/><circle cx="522.1" cy="354.3" r="2.2"/><circle cx="552.4" cy="379.7" r="2.2"/><circle cx="554.3" cy="351.0" r="2.2"/><circle cx="546.8" cy="382.8" r="2.2"/><circle cx="533.4" cy="355.4" r="2.2"/><circle cx="500.1" cy="383.9" r="2.2"/><circle cx="518.3" cy="383.6" r="2.2"/><circle cx="540.2" cy="373.3" r="2.2"/><circle cx="515.0" cy="381.3" r="2.2"/><circle cx="507.3" cy="384.8" r="2.2"/><circle cx="531.5" cy="382.6" r="2.2"/><circle cx="555.4" cy="383.0" r="2.2"/><circle cx="537.4" cy="358.5" r="2.2"/><circle cx="555.1" cy="353.8" r="2.2"/><circle cx="552.3" cy="384.6" r="2.2"/><circle cx="546.5" cy="361.0" r="2.2"/><circle cx="543.5" cy="378.9" r="2.2"/><circle cx="550.3" cy="357.0" r="2.2"/><circle cx="522.9" cy="384.2" r="2.2"/><circle cx="539.3" cy="374.1" r="2.2"/><circle cx="549.1" cy="381.9" r="2.2"/><circle cx="564.5" cy="368.7" r="2.2"/><circle cx="565.3" cy="354.6" r="2.2"/><circle cx="567.2" cy="349.7" r="2.2"/><circle cx="582.1" cy="377.9" r="2.2"/><circle cx="586.0" cy="362.9" r="2.2"/><circle cx="596.1" cy="358.4" r="2.2"/><circle cx="585.1" cy="337.0" r="2.2"/><circle cx="561.9" cy="367.9" r="2.2"/><circle cx="592.4" cy="354.2" r="2.2"/><circle cx="562.0" cy="344.3" r="2.2"/><circle cx="593.6" cy="383.4" r="2.2"/><circle cx="570.0" cy="364.3" r="2.2"/><circle cx="598.5" cy="375.4" r="2.2"/><circle cx="560.0" cy="345.9" r="2.2"/><circle cx="578.3" cy="369.9" r="2.2"/><circle cx="560.9" cy="354.8" r="2.2"/><circle cx="597.7" cy="350.8" r="2.2"/><circle cx="585.5" cy="371.6" r="2.2"/><circle cx="587.9" cy="369.8" r="2.2"/><circle cx="605.7" cy="362.0" r="2.2"/><circle cx="601.6" cy="357.4" r="2.2"/><circle cx="570.6" cy="334.6" r="2.2"/><circle cx="561.3" cy="372.0" r="2.2"/><circle cx="584.6" cy="369.9" r="2.2"/><circle cx="562.8" cy="355.0" r="2.2"/><circle cx="609.3" cy="370.2" r="2.2"/><circle cx="587.5" cy="366.4" r="2.2"/><circle cx="566.0" cy="369.9" r="2.2"/><circle cx="560.2" cy="350.1" r="2.2"/><circle cx="561.9" cy="378.1" r="2.2"/><circle cx="560.9" cy="345.8" r="2.2"/><circle cx="602.6" cy="374.2" r="2.2"/><circle cx="566.4" cy="347.2" r="2.2"/><circle cx="568.9" cy="361.0" r="2.2"/><circle cx="562.6" cy="368.1" r="2.2"/><circle cx="601.6" cy="357.7" r="2.2"/><circle cx="559.9" cy="383.8" r="2.2"/><circle cx="562.7" cy="355.8" r="2.2"/><circle cx="597.0" cy="383.0" r="2.2"/><circle cx="564.9" cy="368.2" r="2.2"/><circle cx="566.6" cy="344.0" r="2.2"/><circle cx="436.9" cy="430.0" r="2.2"/><circle cx="455.5" cy="419.2" r="2.2"/><circle cx="409.8" cy="425.1" r="2.2"/><circle cx="454.6" cy="433.0" r="2.2"/><circle cx="457.2" cy="451.9" r="2.2"/><circle cx="412.1" cy="415.4" r="2.2"/><circle cx="451.9" cy="438.1" r="2.2"/><circle cx="442.9" cy="424.2" r="2.2"/><circle cx="449.9" cy="405.8" r="2.2"/><circle cx="432.9" cy="416.3" r="2.2"/><circle cx="453.9" cy="400.0" r="2.2"/><circle cx="406.2" cy="434.9" r="2.2"/><circle cx="412.9" cy="427.4" r="2.2"/><circle cx="447.1" cy="403.6" r="2.2"/><circle cx="431.8" cy="416.6" r="2.2"/><circle cx="417.9" cy="444.2" r="2.2"/><circle cx="421.2" cy="419.4" r="2.2"/><circle cx="445.8" cy="445.2" r="2.2"/><circle cx="452.1" cy="449.0" r="2.2"/><circle cx="452.4" cy="422.8" r="2.2"/><circle cx="418.0" cy="421.4" r="2.2"/><circle cx="453.9" cy="428.4" r="2.2"/><circle cx="453.7" cy="423.4" r="2.2"/><circle cx="413.7" cy="437.1" r="2.2"/><circle cx="456.9" cy="409.0" r="2.2"/><circle cx="432.6" cy="447.7" r="2.2"/><circle cx="447.0" cy="401.1" r="2.2"/><circle cx="447.5" cy="432.1" r="2.2"/><circle cx="412.4" cy="417.3" r="2.2"/><circle cx="464.4" cy="405.3" r="2.2"/><circle cx="503.0" cy="391.8" r="2.2"/><circle cx="541.3" cy="456.3" r="2.2"/><circle cx="479.2" cy="451.2" r="2.2"/><circle cx="495.2" cy="396.0" r="2.2"/><circle cx="471.1" cy="398.3" r="2.2"/><circle cx="520.9" cy="454.2" r="2.2"/><circle cx="482.0" cy="399.8" r="2.2"/><circle cx="500.9" cy="392.9" r="2.2"/><circle cx="473.2" cy="400.2" r="2.2"/><circle cx="489.9" cy="450.5" r="2.2"/><circle cx="556.4" cy="397.8" r="2.2"/><circle cx="537.9" cy="458.3" r="2.2"/><circle cx="540.0" cy="456.0" r="2.2"/><circle cx="467.6" cy="448.9" r="2.2"/><circle cx="481.2" cy="450.3" r="2.2"/><circle cx="536.9" cy="456.8" r="2.2"/><circle cx="503.4" cy="392.8" r="2.2"/><circle cx="488.1" cy="394.4" r="2.2"/><circle cx="509.7" cy="448.4" r="2.2"/><circle cx="462.2" cy="417.3" r="2.2"/><circle cx="465.0" cy="447.6" r="2.2"/><circle cx="587.5" cy="402.8" r="2.2"/><circle cx="596.7" cy="444.1" r="2.2"/><circle cx="606.6" cy="428.4" r="2.2"/><circle cx="602.9" cy="417.1" r="2.2"/><circle cx="601.0" cy="424.7" r="2.2"/><circle cx="579.6" cy="444.5" r="2.2"/><circle cx="601.3" cy="423.8" r="2.2"/><circle cx="561.5" cy="453.6" r="2.2"/><circle cx="608.5" cy="429.3" r="2.2"/><circle cx="598.9" cy="422.6" r="2.2"/><circle cx="597.4" cy="415.0" r="2.2"/><circle cx="614.5" cy="425.2" r="2.2"/><circle cx="612.0" cy="439.5" r="2.2"/><circle cx="594.4" cy="439.3" r="2.2"/><circle cx="573.9" cy="399.2" r="2.2"/><circle cx="597.5" cy="423.0" r="2.2"/><circle cx="565.0" cy="452.3" r="2.2"/><circle cx="599.4" cy="444.2" r="2.2"/><circle cx="597.0" cy="441.3" r="2.2"/><circle cx="598.1" cy="441.5" r="2.2"/></g>
<g fill="rgb(204,56,146)" fill-opacity="0.47"><circle cx="557.1" cy="370.3" r="2.2"/><circle cx="532.2" cy="385.3" r="2.2"/><circle cx="545.8" cy="369.7" r="2.2"/><circle cx="552.0" cy="362.7" r="2.2"/><circle cx="556.2" cy="381.0" r="2.2"/><circle cx="544.0" cy="382.1" r="2.2"/><circle cx="555.4" cy="376.0" r="2.2"/><circle cx="510.1" cy="385.0" r="2.2"/><circle cx="556.0" cy="378.3" r="2.2"/><circle cx="556.3" cy="363.5" r="2.2"/><circle cx="597.7" cy="365.5" r="2.2"/><circle cx="593.9" cy="378.7" r="2.2"/><circle cx="591.1" cy="377.7" r="2.2"/><circle cx="574.0" cy="338.4" r="2.2"/><circle cx="598.6" cy="368.6" r="2.2"/><circle cx="596.8" cy="367.7" r="2.2"/><circle cx="591.4" cy="370.6" r="2.2"/><circle cx="559.9" cy="359.0" r="2.2"/><circle cx="592.8" cy="360.1" r="2.2"/><circle cx="601.5" cy="358.9" r="2.2"/><circle cx="592.6" cy="364.5" r="2.2"/><circle cx="597.0" cy="364.5" r="2.2"/><circle cx="588.8" cy="379.3" r="2.2"/><circle cx="419.1" cy="426.5" r="2.2"/><circle cx="444.8" cy="428.9" r="2.2"/><circle cx="420.5" cy="427.5" r="2.2"/><circle cx="438.2" cy="429.6" r="2.2"/><circle cx="417.5" cy="442.4" r="2.2"/><circle cx="437.0" cy="439.2" r="2.2"/><circle cx="450.6" cy="436.0" r="2.2"/><circle cx="458.1" cy="445.6" r="2.2"/><circle cx="457.1" cy="437.4" r="2.2"/><circle cx="432.9" cy="441.4" r="2.2"/><circle cx="420.1" cy="425.4" r="2.2"/><circle cx="431.9" cy="436.3" r="2.2"/><circle cx="442.7" cy="427.8" r="2.2"/><circle cx="444.6" cy="428.6" r="2.2"/><circle cx="413.3" cy="435.7" r="2.2"/><circle cx="448.9" cy="442.6" r="2.2"/><circle cx="433.3" cy="422.0" r="2.2"/><circle cx="430.3" cy="441.8" r="2.2"/><circle cx="412.6" cy="431.3" r="2.2"/><circle cx="434.7" cy="441.1" r="2.2"/><circle cx="414.0" cy="428.8" r="2.2"/><circle cx="435.7" cy="429.0" r="2.2"/><circle cx="447.0" cy="443.5" r="2.2"/><circle cx="464.2" cy="441.1" r="2.2"/><circle cx="475.6" cy="402.2" r="2.2"/><circle cx="522.7" cy="389.8" r="2.2"/><circle cx="550.8" cy="453.6" r="2.2"/><circle cx="546.6" cy="389.1" r="2.2"/><circle cx="503.0" cy="389.9" r="2.2"/><circle cx="473.8" cy="404.5" r="2.2"/><circle cx="464.8" cy="411.2" r="2.2"/><circle cx="472.2" cy="418.6" r="2.2"/><circle cx="514.0" cy="448.3" r="2.2"/><circle cx="468.1" cy="425.1" r="2.2"/><circle cx="523.8" cy="389.8" r="2.2"/><circle cx="463.1" cy="441.9" r="2.2"/><circle cx="545.6" cy="454.4" r="2.2"/><circle cx="537.3" cy="455.0" r="2.2"/><circle cx="462.1" cy="431.4" r="2.2"/><circle cx="550.7" cy="452.6" r="2.2"/><circle cx="465.1" cy="425.6" r="2.2"/><circle cx="470.1" cy="420.8" r="2.2"/><circle cx="522.8" cy="452.8" r="2.2"/><circle cx="515.4" cy="449.8" r="2.2"/><circle cx="533.5" cy="455.8" r="2.2"/><circle cx="556.6" cy="403.6" r="2.2"/><circle cx="553.9" cy="449.0" r="2.2"/><circle cx="474.5" cy="405.1" r="2.2"/><circle cx="493.5" cy="399.2" r="2.2"/><circle cx="461.4" cy="437.8" r="2.2"/><circle cx="548.8" cy="390.2" r="2.2"/><circle cx="609.9" cy="433.4" r="2.2"/><circle cx="584.8" cy="408.9" r="2.2"/><circle cx="562.4" cy="401.7" r="2.2"/><circle cx="601.1" cy="429.5" r="2.2"/><circle cx="602.9" cy="426.7" r="2.2"/><circle cx="603.3" cy="439.6" r="2.2"/><circle cx="583.7" cy="408.8" r="2.2"/><circle cx="582.3" cy="410.4" r="2.2"/><circle cx="572.6" cy="444.5" r="2.2"/><circle cx="602.1" cy="430.7" r="2.2"/><circle cx="594.3" cy="416.7" r="2.2"/><circle cx="601.8" cy="437.3" r="2.2"/><circle cx="612.7" cy="435.5" r="2.2"/><circle cx="565.0" cy="449.8" r="2.2"/><circle cx="584.4" cy="405.0" r="2.2"/><circle cx="602.8" cy="426.8" r="2.2"/><circle cx="586.7" cy="440.1" r="2.2"/><circle cx="564.3" cy="403.0" r="2.2"/><circle cx="566.3" cy="447.4" r="2.2"/><circle cx="602.9" cy="425.1" r="2.2"/></g>
<g fill="rgb(207,48,136)" fill-opacity="0.51"><circle cx="595.5" cy="371.6" r="2.2"/><circle cx="594.6" cy="371.1" r="2.2"/><circle cx="435.1" cy="426.6" r="2.2"/><circle cx="433.6" cy="436.4" r="2.2"/><circle cx="421.1" cy="439.4" r="2.2"/><circle cx="418.4" cy="435.2" r="2.2"/><circle cx="420.2" cy="428.8" r="2.2"/><circle cx="430.9" cy="433.7" r="2.2"/><circle cx="427.7" cy="437.4" r="2.2"/><circle cx="423.0" cy="438.8" r="2.2"/><circle cx="427.3" cy="438.8" r="2.2"/><circle cx="420.7" cy="428.9" r="2.2"/><circle cx="420.0" cy="429.2" r="2.2"/><circle cx="429.7" cy="429.6" r="2.2"/><circle cx="427.8" cy="434.3" r="2.2"/><circle cx="435.9" cy="440.3" r="2.2"/><circle cx="534.0" cy="396.6" r="2.2"/><circle cx="538.0" cy="399.9" r="2.2"/><circle cx="549.4" cy="400.9" r="2.2"/><circle cx="476.9" cy="447.6" r="2.2"/><circle cx="551.5" cy="401.3" r="2.2"/><circle cx="496.9" cy="413.8" r="2.2"/><circle cx="473.5" cy="413.3" r="2.2"/><circle cx="516.1" cy="394.6" r="2.2"/><circle cx="511.0" cy="402.3" r="2.2"/><circle cx="533.0" cy="398.8" r="2.2"/><circle cx="480.8" cy="442.1" r="2.2"/><circle cx="491.2" cy="410.3" r="2.2"/><circle cx="516.0" cy="398.7" r="2.2"/><circle cx="536.6" cy="396.9" r="2.2"/><circle cx="515.3" cy="393.6" r="2.2"/><circle cx="494.9" cy="406.5" r="2.2"/><circle cx="556.5" cy="445.1" r="2.2"/><circle cx="521.7" cy="394.1" r="2.2"/><circle cx="477.8" cy="444.2" r="2.2"/><circle cx="483.8" cy="403.0" r="2.2"/><circle cx="504.9" cy="444.8" r="2.2"/><circle cx="471.8" cy="426.6" r="2.2"/><circle cx="496.3" cy="413.6" r="2.2"/><circle cx="541.3" cy="391.5" r="2.2"/><circle cx="539.5" cy="451.5" r="2.2"/><circle cx="500.9" cy="404.6" r="2.2"/><circle cx="539.6" cy="391.5" r="2.2"/><circle cx="516.8" cy="398.0" r="2.2"/><circle cx="477.5" cy="444.4" r="2.2"/><circle cx="535.6" cy="401.7" r="2.2"/><circle cx="543.3" cy="390.1" r="2.2"/><circle cx="512.0" cy="407.1" r="2.2"/><circle cx="466.6" cy="427.6" r="2.2"/><circle cx="550.8" cy="450.2" r="2.2"/><circle cx="505.1" cy="444.7" r="2.2"/><circle cx="518.2" cy="395.6" r="2.2"/><circle cx="538.0" cy="451.1" r="2.2"/><circle cx="471.5" cy="428.1" r="2.2"/><circle cx="550.5" cy="394.4" r="2.2"/><circle cx="491.8" cy="412.5" r="2.2"/><circle cx="518.4" cy="447.8" r="2.2"/><circle cx="555.0" cy="406.7" r="2.2"/><circle cx="471.0" cy="442.6" r="2.2"/><circle cx="469.3" cy="439.6" r="2.2"/><circle cx="506.4" cy="405.0" r="2.2"/><circle cx="482.1" cy="406.1" r="2.2"/><circle cx="517.9" cy="395.2" r="2.2"/><circle cx="556.0" cy="404.9" r="2.2"/><circle cx="465.4" cy="431.4" r="2.2"/><circle cx="487.4" cy="399.5" r="2.2"/><circle cx="464.8" cy="442.0" r="2.2"/><circle cx="509.3" cy="442.1" r="2.2"/><circle cx="493.1" cy="411.8" r="2.2"/><circle cx="496.2" cy="410.4" r="2.2"/><circle cx="530.4" cy="449.3" r="2.2"/><circle cx="477.1" cy="409.2" r="2.2"/><circle cx="555.2" cy="444.8" r="2.2"/><circle cx="470.7" cy="442.2" r="2.2"/><circle cx="592.4" cy="417.3" r="2.2"/><circle cx="571.6" cy="401.9" r="2.2"/><circle cx="571.8" cy="405.5" r="2.2"/><circle cx="583.5" cy="428.0" r="2.2"/><circle cx="581.3" cy="429.3" r="2.2"/><circle cx="577.1" cy="406.2" r="2.2"/><circle cx="582.7" cy="429.3" r="2.2"/><circle cx="563.6" cy="408.5" r="2.2"/><circle cx="561.0" cy="445.1" r="2.2"/><circle cx="595.9" cy="428.6" r="2.2"/><circle cx="572.8" cy="408.1" r="2.2"/><circle cx="591.0" cy="427.0" r="2.2"/></g>
<g fill="rgb(209,39,126)" fill-opacity="0.54"><circle cx="426.8" cy="429.6" r="2.2"/><circle cx="542.8" cy="408.6" r="2.2"/><circle cx="511.0" cy="441.1" r="2.2"/><circle cx="514.9" cy="397.3" r="2.2"/><circle cx="531.6" cy="397.9" r="2.2"/><circle cx="555.9" cy="443.2" r="2.2"/><circle cx="533.8" cy="401.2" r="2.2"/><circle cx="488.7" cy="403.2" r="2.2"/><circle cx="477.7" cy="411.9" r="2.2"/><circle cx="536.8" cy="402.5" r="2.2"/><circle cx="538.3" cy="403.6" r="2.2"/><circle cx="476.5" cy="417.0" r="2.2"/><circle cx="523.3" cy="446.0" r="2.2"/><circle cx="476.9" cy="421.8" r="2.2"/><circle cx="487.0" cy="410.5" r="2.2"/><circle cx="489.7" cy="414.5" r="2.2"/><circle cx="476.6" cy="439.5" r="2.2"/><circle cx="477.8" cy="438.5" r="2.2"/><circle cx="528.8" cy="393.3" r="2.2"/><circle cx="486.2" cy="412.7" r="2.2"/><circle cx="544.3" cy="412.5" r="2.2"/><circle cx="551.7" cy="407.0" r="2.2"/><circle cx="514.2" cy="407.8" r="2.2"/><circle cx="475.8" cy="425.9" r="2.2"/><circle cx="507.7" cy="409.3" r="2.2"/><circle cx="553.4" cy="443.9" r="2.2"/><circle cx="548.0" cy="440.0" r="2.2"/><circle cx="514.2" cy="405.2" r="2.2"/><circle cx="526.0" cy="448.2" r="2.2"/><circle cx="547.9" cy="395.4" r="2.2"/><circle cx="538.9" cy="401.9" r="2.2"/><circle cx="531.9" cy="406.4" r="2.2"/><circle cx="475.8" cy="435.0" r="2.2"/><circle cx="541.9" cy="449.0" r="2.2"/><circle cx="551.6" cy="408.8" r="2.2"/><circle cx="485.4" cy="403.1" r="2.2"/><circle cx="533.6" cy="447.1" r="2.2"/><circle cx="516.8" cy="445.3" r="2.2"/><circle cx="537.1" cy="448.6" r="2.2"/><circle cx="537.2" cy="405.0" r="2.2"/><circle cx="544.4" cy="411.5" r="2.2"/><circle cx="535.8" cy="398.0" r="2.2"/><circle cx="540.6" cy="422.0" r="2.2"/><circle cx="549.9" cy="403.6" r="2.2"/><circle cx="540.6" cy="421.1" r="2.2"/><circle cx="553.6" cy="410.3" r="2.2"/><circle cx="499.0" cy="441.0" r="2.2"/><circle cx="531.8" cy="450.6" r="2.2"/><circle cx="475.7" cy="412.4" r="2.2"/><circle cx="490.8" cy="413.6" r="2.2"/><circle cx="545.7" cy="420.4" r="2.2"/><circle cx="477.9" cy="432.3" r="2.2"/><circle cx="487.6" cy="413.2" r="2.2"/><circle cx="529.8" cy="446.7" r="2.2"/><circle cx="475.4" cy="426.0" r="2.2"/><circle cx="525.1" cy="448.0" r="2.2"/><circle cx="480.7" cy="439.0" r="2.2"/><circle cx="581.6" cy="418.0" r="2.2"/><circle cx="580.7" cy="429.0" r="2.2"/><circle cx="574.6" cy="435.0" r="2.2"/><circle cx="587.5" cy="417.2" r="2.2"/><circle cx="570.0" cy="409.6" r="2.2"/><circle cx="566.8" cy="442.3" r="2.2"/><circle cx="580.4" cy="419.0" r="2.2"/><circle cx="560.4" cy="411.4" r="2.2"/><circle cx="579.5" cy="432.2" r="2.2"/><circle cx="574.2" cy="410.7" r="2.2"/><circle cx="579.3" cy="424.4" r="2.2"/><circle cx="580.2" cy="428.5" r="2.2"/><circle cx="561.2" cy="411.8" r="2.2"/><circle cx="579.4" cy="430.8" r="2.2"/></g>
<g fill="rgb(208,33,117)" fill-opacity="0.58"><circle cx="477.9" cy="432.1" r="2.2"/><circle cx="489.0" cy="418.8" r="2.2"/><circle cx="541.3" cy="416.9" r="2.2"/><circle cx="539.6" cy="431.1" r="2.2"/><circle cx="530.7" cy="445.3" r="2.2"/><circle cx="544.7" cy="420.9" r="2.2"/><circle cx="553.0" cy="413.6" r="2.2"/><circle cx="539.8" cy="431.3" r="2.2"/><circle cx="546.5" cy="428.8" r="2.2"/><circle cx="495.2" cy="438.9" r="2.2"/><circle cx="538.3" cy="438.7" r="2.2"/><circle cx="515.6" cy="440.8" r="2.2"/><circle cx="537.1" cy="412.0" r="2.2"/><circle cx="528.3" cy="401.2" r="2.2"/><circle cx="513.5" cy="408.8" r="2.2"/><circle cx="544.6" cy="431.1" r="2.2"/><circle cx="538.9" cy="426.8" r="2.2"/><circle cx="492.0" cy="434.9" r="2.2"/><circle cx="556.1" cy="433.2" r="2.2"/><circle cx="527.3" cy="441.6" r="2.2"/><circle cx="481.7" cy="432.7" r="2.2"/><circle cx="501.0" cy="437.1" r="2.2"/><circle cx="541.7" cy="430.7" r="2.2"/><circle cx="546.3" cy="445.6" r="2.2"/><circle cx="549.0" cy="403.8" r="2.2"/><circle cx="480.8" cy="416.4" r="2.2"/><circle cx="549.8" cy="425.6" r="2.2"/><circle cx="507.5" cy="411.1" r="2.2"/><circle cx="485.0" cy="431.8" r="2.2"/><circle cx="478.9" cy="431.7" r="2.2"/><circle cx="527.4" cy="443.4" r="2.2"/><circle cx="556.7" cy="440.7" r="2.2"/><circle cx="488.8" cy="417.0" r="2.2"/><circle cx="557.3" cy="418.9" r="2.2"/><circle cx="541.2" cy="407.3" r="2.2"/><circle cx="490.8" cy="417.3" r="2.2"/><circle cx="554.8" cy="440.1" r="2.2"/><circle cx="544.4" cy="438.9" r="2.2"/><circle cx="489.1" cy="436.3" r="2.2"/><circle cx="536.3" cy="413.2" r="2.2"/><circle cx="556.2" cy="438.2" r="2.2"/><circle cx="555.0" cy="440.3" r="2.2"/><circle cx="536.3" cy="445.3" r="2.2"/><circle cx="541.6" cy="422.3" r="2.2"/><circle cx="494.8" cy="440.7" r="2.2"/><circle cx="519.4" cy="404.5" r="2.2"/><circle cx="484.8" cy="414.8" r="2.2"/><circle cx="551.0" cy="435.6" r="2.2"/><circle cx="483.5" cy="438.5" r="2.2"/><circle cx="537.9" cy="410.0" r="2.2"/><circle cx="572.8" cy="437.6" r="2.2"/><circle cx="579.1" cy="418.0" r="2.2"/><circle cx="567.1" cy="441.9" r="2.2"/><circle cx="577.3" cy="424.9" r="2.2"/><circle cx="573.9" cy="435.5" r="2.2"/><circle cx="572.5" cy="431.1" r="2.2"/><circle cx="573.2" cy="432.8" r="2.2"/><circle cx="564.7" cy="413.1" r="2.2"/><circle cx="578.6" cy="415.4" r="2.2"/><circle cx="577.7" cy="415.3" r="2.2"/><circle cx="564.8" cy="411.7" r="2.2"/><circle cx="575.5" cy="414.2" r="2.2"/><circle cx="561.1" cy="412.9" r="2.2"/><circle cx="578.6" cy="417.2" r="2.2"/></g>
<g fill="rgb(207,26,108)" fill-opacity="0.62"><circle cx="487.3" cy="431.6" r="2.2"/><circle cx="531.7" cy="440.7" r="2.2"/><circle cx="551.2" cy="421.0" r="2.2"/><circle cx="499.6" cy="432.3" r="2.2"/><circle cx="493.9" cy="429.6" r="2.2"/><circle cx="530.6" cy="440.7" r="2.2"/><circle cx="494.7" cy="417.3" r="2.2"/><circle cx="516.3" cy="411.2" r="2.2"/><circle cx="530.4" cy="444.2" r="2.2"/><circle cx="538.4" cy="431.5" r="2.2"/><circle cx="543.3" cy="417.0" r="2.2"/><circle cx="515.7" cy="412.4" r="2.2"/><circle cx="542.5" cy="423.1" r="2.2"/><circle cx="532.6" cy="440.6" r="2.2"/><circle cx="521.5" cy="410.5" r="2.2"/><circle cx="543.9" cy="431.3" r="2.2"/><circle cx="556.6" cy="425.4" r="2.2"/><circle cx="527.8" cy="441.0" r="2.2"/><circle cx="535.8" cy="440.3" r="2.2"/><circle cx="557.0" cy="423.9" r="2.2"/><circle cx="499.5" cy="433.0" r="2.2"/><circle cx="496.3" cy="431.4" r="2.2"/><circle cx="525.2" cy="438.1" r="2.2"/><circle cx="557.6" cy="428.3" r="2.2"/><circle cx="490.3" cy="419.8" r="2.2"/><circle cx="523.7" cy="414.6" r="2.2"/><circle cx="488.5" cy="432.2" r="2.2"/><circle cx="531.6" cy="432.1" r="2.2"/><circle cx="529.5" cy="407.7" r="2.2"/><circle cx="523.6" cy="406.7" r="2.2"/><circle cx="528.1" cy="432.9" r="2.2"/><circle cx="525.8" cy="412.8" r="2.2"/><circle cx="530.1" cy="436.3" r="2.2"/><circle cx="508.4" cy="438.3" r="2.2"/><circle cx="556.4" cy="429.7" r="2.2"/><circle cx="494.4" cy="431.5" r="2.2"/><circle cx="513.1" cy="414.0" r="2.2"/><circle cx="491.5" cy="429.6" r="2.2"/><circle cx="543.0" cy="435.1" r="2.2"/><circle cx="503.4" cy="437.1" r="2.2"/><circle cx="546.3" cy="433.4" r="2.2"/><circle cx="551.7" cy="427.9" r="2.2"/><circle cx="485.3" cy="416.6" r="2.2"/><circle cx="485.1" cy="437.0" r="2.2"/><circle cx="532.8" cy="431.8" r="2.2"/><circle cx="500.7" cy="434.9" r="2.2"/><circle cx="499.2" cy="432.3" r="2.2"/><circle cx="554.9" cy="420.0" r="2.2"/><circle cx="493.6" cy="435.0" r="2.2"/><circle cx="520.0" cy="414.9" r="2.2"/><circle cx="519.1" cy="413.2" r="2.2"/><circle cx="521.4" cy="403.7" r="2.2"/><circle cx="518.8" cy="409.8" r="2.2"/><circle cx="484.0" cy="431.0" r="2.2"/><circle cx="562.0" cy="439.5" r="2.2"/><circle cx="572.3" cy="427.3" r="2.2"/><circle cx="574.9" cy="423.9" r="2.2"/><circle cx="572.2" cy="428.7" r="2.2"/><circle cx="573.2" cy="429.1" r="2.2"/><circle cx="561.8" cy="435.9" r="2.2"/><circle cx="566.1" cy="427.9" r="2.2"/><circle cx="574.2" cy="422.3" r="2.2"/><circle cx="564.7" cy="434.4" r="2.2"/><circle cx="576.5" cy="421.0" r="2.2"/><circle cx="560.3" cy="428.8" r="2.2"/></g>
<g fill="rgb(206,20,100)" fill-opacity="0.66"><circle cx="523.1" cy="417.0" r="2.2"/><circle cx="523.8" cy="416.2" r="2.2"/><circle cx="525.0" cy="425.8" r="2.2"/><circle cx="524.3" cy="422.7" r="2.2"/><circle cx="519.9" cy="416.7" r="2.2"/><circle cx="528.2" cy="428.5" r="2.2"/><circle cx="514.2" cy="425.7" r="2.2"/><circle cx="531.0" cy="428.9" r="2.2"/><circle cx="511.7" cy="420.6" r="2.2"/><circle cx="496.2" cy="421.3" r="2.2"/><circle cx="483.2" cy="424.2" r="2.2"/><circle cx="527.7" cy="417.6" r="2.2"/><circle cx="509.4" cy="428.1" r="2.2"/><circle cx="503.9" cy="428.4" r="2.2"/><circle cx="515.1" cy="428.0" r="2.2"/><circle cx="515.2" cy="424.3" r="2.2"/><circle cx="485.8" cy="427.4" r="2.2"/><circle cx="530.4" cy="429.0" r="2.2"/><circle cx="501.1" cy="430.9" r="2.2"/><circle cx="513.4" cy="438.5" r="2.2"/><circle cx="528.0" cy="416.9" r="2.2"/><circle cx="530.6" cy="419.5" r="2.2"/><circle cx="505.2" cy="425.9" r="2.2"/><circle cx="503.2" cy="424.5" r="2.2"/><circle cx="487.3" cy="426.8" r="2.2"/><circle cx="531.5" cy="427.5" r="2.2"/><circle cx="495.1" cy="429.1" r="2.2"/><circle cx="513.5" cy="423.8" r="2.2"/><circle cx="518.7" cy="426.3" r="2.2"/><circle cx="513.7" cy="423.1" r="2.2"/><circle cx="519.4" cy="423.8" r="2.2"/><circle cx="511.2" cy="423.5" r="2.2"/><circle cx="521.6" cy="416.0" r="2.2"/><circle cx="516.3" cy="430.4" r="2.2"/><circle cx="522.7" cy="431.7" r="2.2"/><circle cx="518.5" cy="423.9" r="2.2"/><circle cx="509.5" cy="428.1" r="2.2"/><circle cx="519.0" cy="419.1" r="2.2"/><circle cx="496.1" cy="427.9" r="2.2"/><circle cx="522.5" cy="431.6" r="2.2"/><circle cx="504.1" cy="429.3" r="2.2"/><circle cx="555.3" cy="425.6" r="2.2"/><circle cx="505.5" cy="428.0" r="2.2"/><circle cx="501.6" cy="430.3" r="2.2"/><circle cx="514.0" cy="424.1" r="2.2"/><circle cx="510.6" cy="433.3" r="2.2"/><circle cx="508.1" cy="416.3" r="2.2"/><circle cx="506.7" cy="425.9" r="2.2"/><circle cx="527.2" cy="432.5" r="2.2"/><circle cx="506.5" cy="423.0" r="2.2"/><circle cx="506.5" cy="433.7" r="2.2"/><circle cx="506.5" cy="431.1" r="2.2"/><circle cx="490.0" cy="428.5" r="2.2"/><circle cx="517.2" cy="423.5" r="2.2"/><circle cx="524.7" cy="431.4" r="2.2"/><circle cx="529.2" cy="423.3" r="2.2"/><circle cx="499.6" cy="422.6" r="2.2"/><circle cx="513.8" cy="423.9" r="2.2"/><circle cx="520.9" cy="426.9" r="2.2"/><circle cx="563.4" cy="427.1" r="2.2"/><circle cx="567.5" cy="416.6" r="2.2"/><circle cx="561.2" cy="430.2" r="2.2"/><circle cx="565.4" cy="427.4" r="2.2"/><circle cx="564.8" cy="431.5" r="2.2"/><circle cx="564.9" cy="418.1" r="2.2"/><circle cx="564.8" cy="431.4" r="2.2"/><circle cx="569.3" cy="423.7" r="2.2"/><circle cx="565.5" cy="427.1" r="2.2"/><circle cx="570.8" cy="425.8" r="2.2"/><circle cx="565.3" cy="420.9" r="2.2"/><circle cx="567.3" cy="416.6" r="2.2"/><circle cx="564.8" cy="429.3" r="2.2"/></g>
</g>
<g class="ln">
<rect x="54.8" y="77.5" width="607.2" height="392.2"/>
<line x1="358.4" y1="77.5" x2="358.4" y2="469.7"/>
<circle cx="358.4" cy="273.6" r="54"/>
<rect x="54.8" y="160.3" width="103.2" height="226.7"/>
<rect x="558.8" y="160.3" width="103.2" height="226.7"/>
<rect x="54.8" y="221.8" width="35.2" height="103.5"/>
<rect x="626.8" y="221.8" width="35.2" height="103.5"/>
<rect x="42.4" y="251.4" width="12.4" height="45.2"/>
<rect x="662.0" y="251.4" width="12.4" height="45.2"/>
<path d="M158.0 231.2 A54.0 54.0 0 0 1 158.0 316.0"/>
<path d="M558.8 231.2 A54.0 54.0 0 0 0 558.8 316.0"/>
</g>
<circle cx="124.6" cy="273.6" r="1.1" fill="#7a7a7a"/>
<circle cx="358.4" cy="273.6" r="1.1" fill="#7a7a7a"/>
<circle cx="592.2" cy="273.6" r="1.1" fill="#7a7a7a"/>
<text class="pc" x="106.4" y="119.2">0%</text>
<text class="p9" x="106.4" y="139.2">0.0</text>
<text class="pc" x="207.6" y="119.2">0%</text>
<text class="p9" x="207.6" y="139.2">0.0</text>
<text class="pc" x="307.8" y="119.2">0%</text>
<text class="p9" x="307.8" y="139.2">0.0</text>
<text class="pc" x="409.0" y="119.2">0%</text>
<text class="p9" x="409.0" y="139.2">0.0</text>
<text class="pc" x="509.2" y="119.2">0%</text>
<text class="p9" x="509.2" y="139.2">0.1</text>
<text class="pc" x="610.4" y="119.2">0%</text>
<text class="p9" x="610.4" y="139.2">0.0</text>
<text class="pc" x="106.4" y="191.3">0%</text>
<text class="p9" x="106.4" y="211.3">0.0</text>
<text class="pc" x="207.6" y="191.3">0%</text>
<text class="p9" x="207.6" y="211.3">0.1</text>
<text class="pc" x="307.8" y="191.3">0%</text>
<text class="p9" x="307.8" y="211.3">0.1</text>
<text class="pc" x="409.0" y="191.3">0%</text>
<text class="p9" x="409.0" y="211.3">0.0</text>
<text class="pc" x="509.2" y="191.3">1%</text>
<text class="p9" x="509.2" y="211.3">0.3</text>
<text class="pc" x="610.4" y="191.3">0%</text>
<text class="p9" x="610.4" y="211.3">0.1</text>
<text class="pc" x="106.4" y="273.9">0%</text>
<text class="p9" x="106.4" y="293.9">0.1</text>
<text class="pc" x="207.6" y="273.9">2%</text>
<text class="p9" x="207.6" y="293.9">0.8</text>
<text class="pc" x="307.8" y="273.9">1%</text>
<text class="p9" x="307.8" y="293.9">0.4</text>
<text class="pc" x="409.0" y="273.9">1%</text>
<text class="p9" x="409.0" y="293.9">0.7</text>
<text class="pc" x="509.2" y="273.9">4%</text>
<text class="p9" x="509.2" y="293.9">1.8</text>
<text class="pc" x="610.4" y="273.9">4%</text>
<text class="p9" x="610.4" y="293.9">2.0</text>
<text class="pc" x="106.4" y="356.5">1%</text>
<text class="p9" x="106.4" y="376.5">0.2</text>
<text class="pc" x="207.6" y="356.5">1%</text>
<text class="p9" x="207.6" y="376.5">0.5</text>
<text class="pc" x="307.8" y="356.5">3%</text>
<text class="p9" x="307.8" y="376.5">1.2</text>
<text class="pc" x="409.0" y="356.5">3%</text>
<text class="p9" x="409.0" y="376.5">1.5</text>
<text class="pc" x="509.2" y="356.5">10%</text>
<text class="p9" x="509.2" y="376.5">4.7</text>
<text class="pc" x="610.4" y="356.5">11%</text>
<text class="p9" x="610.4" y="376.5">5.3</text>
<text class="pc" x="106.4" y="428.6">0%</text>
<text class="p9" x="106.4" y="448.6">0.0</text>
<text class="pc" x="207.6" y="428.6">3%</text>
<text class="p9" x="207.6" y="448.6">1.2</text>
<text class="pc" x="307.8" y="428.6">7%</text>
<text class="p9" x="307.8" y="448.6">3.2</text>
<text class="pc" x="409.0" y="428.6">11%</text>
<text class="p9" x="409.0" y="448.6">5.3</text>
<text class="pc" x="509.2" y="428.6">25%</text>
<text class="p9" x="509.2" y="448.6">11.8</text>
<text class="pc" x="610.4" y="428.6">13%</text>
<text class="p9" x="610.4" y="448.6">6.1</text>
<text x="176.2" y="502.8" font-size="14.6" font-weight="700" fill="#111" text-anchor="middle" textLength="154.6" lengthAdjust="spacingAndGlyphs">% of open-play touches</text>
<text x="176.2" y="521.8" font-size="12.2" fill="#444" text-anchor="middle" textLength="146.6" lengthAdjust="spacingAndGlyphs">open-play touches per 90</text>
<path d="M317.6 489.8 L331.8 498 L317.6 506.2 Z" fill="#b7b7b7" stroke="#9a9a9a" stroke-width=".8"/>
<path d="M342.0 489.8 L356.2 498 L342.0 506.2 Z" fill="#b7b7b7" stroke="#9a9a9a" stroke-width=".8"/>
<path d="M366.4 489.8 L380.6 498 L366.4 506.2 Z" fill="#b7b7b7" stroke="#9a9a9a" stroke-width=".8"/>
<path d="M390.8 489.8 L405.0 498 L390.8 506.2 Z" fill="#b7b7b7" stroke="#9a9a9a" stroke-width=".8"/>
<text x="358.5" y="525" font-size="9" fill="#333" text-anchor="middle" textLength="76.4" lengthAdjust="spacingAndGlyphs">Attacking Direction</text>
</svg>
</body></html>
